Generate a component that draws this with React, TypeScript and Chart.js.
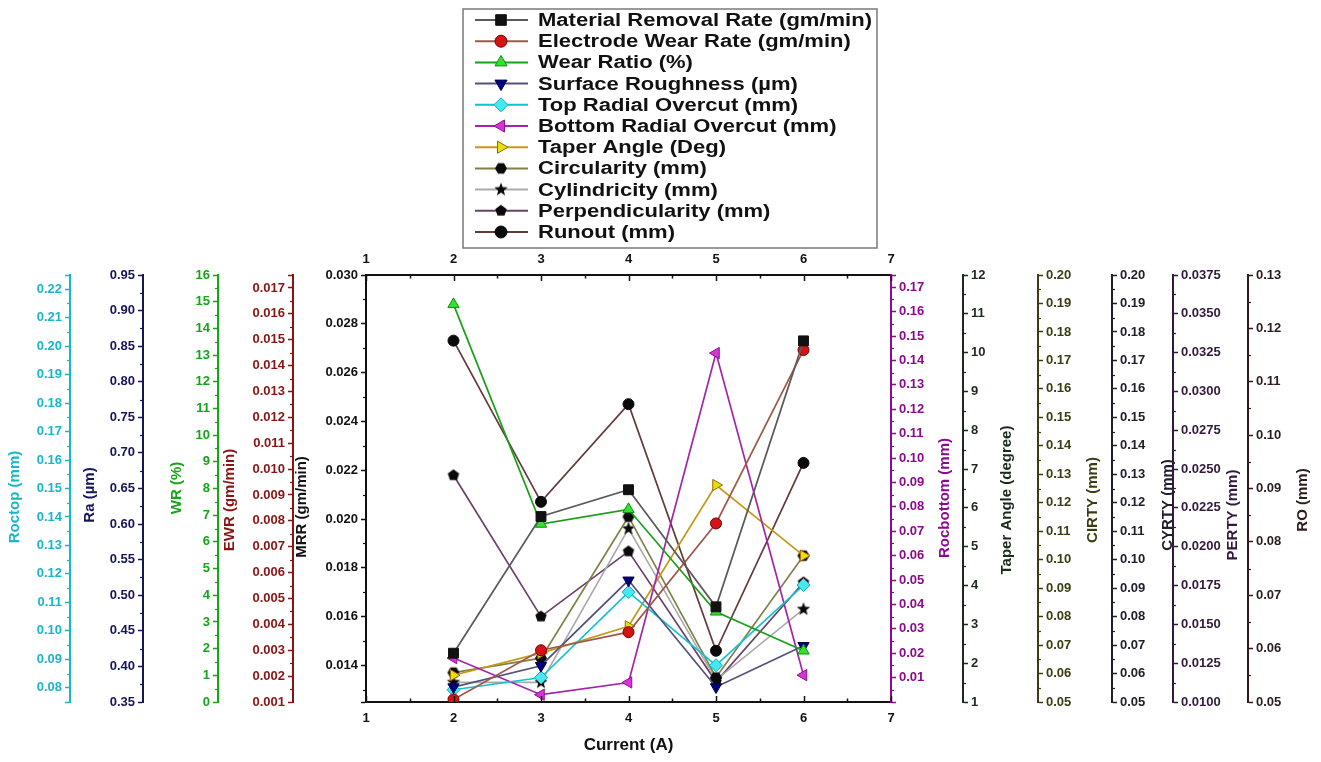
import React, { useEffect, useRef } from 'react';
import { Chart, registerables } from 'chart.js';
import { drawPoint } from 'chart.js/helpers';

Chart.register(...registerables);

// ---------------- data ----------------
const currentA = [2, 3, 4, 5, 6];
const currentTicks = [1, 2, 3, 4, 5, 6, 7];

const mrrValues = [0.0145, 0.0201, 0.0212, 0.0164, 0.0273];
const ewrValues = [0.0011, 0.003, 0.0037, 0.0079, 0.0146];
const wrValues = [14.9, 6.67, 7.22, 3.38, 1.92];
const raValues = [0.371, 0.401, 0.521, 0.371, 0.429];
const rocTopValues = [0.0793, 0.0836, 0.1136, 0.0879, 0.1161];
const rocBottomValues = [0.018, 0.003, 0.008, 0.143, 0.011];
const taperValues = [1.69, 2.26, 2.95, 6.59, 4.77];
const circularityValues = [0.0603, 0.0654, 0.1151, 0.0586, 0.1014];
const cylindricityValues = [0.0569, 0.0569, 0.1109, 0.0577, 0.0826];
const perpendicularityValues = [0.0246, 0.0155, 0.0197, 0.0113, 0.0177];
const runoutValues = [0.1177, 0.0875, 0.1058, 0.0596, 0.0948];

// axis ranges: [min, max, firstLabel, lastLabel, step, decimals]
const roctopRange = [0.075, 0.225, 0.08, 0.22, 0.01, 2];
const raRange = [0.35, 0.95, 0.35, 0.95, 0.05, 2];
const wrRange = [0, 16, 0, 16, 1, 0];
const ewrRange = [0.001, 0.0175, 0.001, 0.017, 0.001, 3];
const mrrRange = [0.0125, 0.03, 0.014, 0.03, 0.002, 3];
const rocBottomRange = [0, 0.175, 0.01, 0.17, 0.01, 2];
const taperRange = [1, 12, 1, 12, 1, 0];
const cirtyRange = [0.05, 0.2, 0.05, 0.2, 0.01, 2];
const cyrtyRange = [0.05, 0.2, 0.05, 0.2, 0.01, 2];
const pertyRange = [0.01, 0.0375, 0.01, 0.0375, 0.0025, 4];
const roRange = [0.05, 0.13, 0.05, 0.13, 0.01, 2];

const FONT = "'Liberation Sans', Arial, Helvetica, sans-serif";

type Side = 'left' | 'right';
interface AxisSpec {
  id: string;
  side: Side;
  range: number[];
  color: string;
  title: string;
  width: number;
  weight: number;
  titleDx: number;
  titleY: number;
}

const AXES: AxisSpec[] = [
  { id: 'yRoctop', side: 'left', range: roctopRange, color: '#17b6c9', title: 'Roctop (mm)', width: 70, weight: 5, titleDx: -55, titleY: 497 },
  { id: 'yRa', side: 'left', range: raRange, color: '#15155a', title: 'Ra (\u00b5m)', width: 73, weight: 4, titleDx: -53, titleY: 495 },
  { id: 'yWR', side: 'left', range: wrRange, color: '#16a516', title: 'WR (%)', width: 75, weight: 3, titleDx: -41, titleY: 488 },
  { id: 'yEWR', side: 'left', range: ewrRange, color: '#8a1414', title: 'EWR (gm/min)', width: 75, weight: 2, titleDx: -63, titleY: 500 },
  { id: 'yMRR', side: 'left', range: mrrRange, color: '#111111', title: 'MRR (gm/min)', width: 73, weight: 1, titleDx: -64, titleY: 507 },
  { id: 'yRocB', side: 'right', range: rocBottomRange, color: '#8c0a8c', title: 'Rocbottom (mm)', width: 72, weight: 1, titleDx: 54, titleY: 498 },
  { id: 'yTaper', side: 'right', range: taperRange, color: '#1c2a1c', title: 'Taper Angle (degree)', width: 75, weight: 2, titleDx: 44, titleY: 500 },
  { id: 'yCir', side: 'right', range: cirtyRange, color: '#3c3c12', title: 'CIRTY (mm)', width: 74, weight: 3, titleDx: 55, titleY: 500 },
  { id: 'yCyl', side: 'right', range: cyrtyRange, color: '#20202c', title: 'CYRTY (mm)', width: 61, weight: 4, titleDx: 56, titleY: 505 },
  { id: 'yPer', side: 'right', range: pertyRange, color: '#33193a', title: 'PERTY (mm)', width: 75, weight: 5, titleDx: 60, titleY: 515 },
  { id: 'yRO', side: 'right', range: roRange, color: '#2c1c1c', title: 'RO (mm)', width: 73, weight: 6, titleDx: 55, titleY: 500 },
];

const r6 = (v: number) => Math.round(v * 1e7) / 1e7;

function majorsOf(range: number[]): number[] {
  const [, , first, last, step] = range;
  const out: number[] = [];
  const n = Math.round((last - first) / step);
  for (let i = 0; i <= n; i++) out.push(r6(first + i * step));
  return out;
}

function minorsOf(range: number[]): number[] {
  const [min, max, first, last, step] = range;
  const out: number[] = [];
  const n = Math.round((last - first) / step);
  for (let i = -1; i <= n; i++) {
    const v = r6(first + (i + 0.5) * step);
    if (v > min + 1e-9 && v < max - 1e-9) out.push(v);
  }
  return out;
}

function makeMarker(kind: 'hex' | 'pent' | 'star', r: number, fill: string): HTMLCanvasElement {
  const c = document.createElement('canvas');
  const size = Math.ceil(2 * r + 2);
  c.width = size;
  c.height = size;
  const g = c.getContext('2d')!;
  g.translate(size / 2, size / 2);
  g.beginPath();
  const n = kind === 'hex' ? 6 : kind === 'pent' ? 5 : 10;
  for (let i = 0; i < n; i++) {
    const ang = -Math.PI / 2 + (i * 2 * Math.PI) / n + (kind === 'hex' ? Math.PI / 6 : 0);
    const rr = kind === 'star' && i % 2 === 1 ? r * 0.42 : r;
    const px = rr * Math.cos(ang);
    const py = rr * Math.sin(ang);
    if (i === 0) g.moveTo(px, py);
    else g.lineTo(px, py);
  }
  g.closePath();
  g.fillStyle = fill;
  g.fill();
  return c;
}

const decorPlugin = {
  id: 'decor',
  afterDraw(chart: any) {
    const ctx: CanvasRenderingContext2D = chart.ctx;
    const area = chart.chartArea;
    ctx.save();
    const line = (x1: number, y1: number, x2: number, y2: number) => {
      ctx.beginPath();
      ctx.moveTo(x1, y1);
      ctx.lineTo(x2, y2);
      ctx.stroke();
    };
    // inward ticks on both x axes
    const xs = chart.scales.x;
    ctx.strokeStyle = '#111';
    ctx.lineWidth = 1.5;
    for (let v = currentTicks[0]; v <= currentTicks[currentTicks.length - 1] + 1e-9; v += 0.5) {
      const px = Math.round(xs.getPixelForValue(v)) + 0.5;
      const len = Number.isInteger(v) ? 6 : 3.5;
      line(px, area.bottom, px, area.bottom - len);
      line(px, area.top, px, area.top + len);
    }
    // minor ticks and titles on y axes
    for (const a of AXES) {
      const s = chart.scales[a.id];
      const x0 = a.side === 'left' ? s.right : s.left;
      const dir = a.side === 'left' ? -1 : 1;
      ctx.strokeStyle = a.color;
      ctx.lineWidth = 1.2;
      for (const v of minorsOf(a.range)) {
        const py = Math.round(s.getPixelForValue(v)) + 0.5;
        line(x0, py, x0 + dir * 3, py);
      }
      ctx.save();
      ctx.translate(x0 + a.titleDx, a.titleY);
      ctx.rotate(-Math.PI / 2);
      ctx.fillStyle = a.color;
      ctx.font = `bold 15px ${FONT}`;
      ctx.textAlign = 'center';
      ctx.textBaseline = 'middle';
      ctx.fillText(a.title, 0, 0);
      ctx.restore();
    }
    ctx.restore();
  },
};

const legendPlugin = {
  id: 'boxLegend',
  afterDraw(chart: any) {
    const ctx: CanvasRenderingContext2D = chart.ctx;
    const datasets = chart.data.datasets;
    ctx.save();
    ctx.strokeStyle = '#7a7a7a';
    ctx.lineWidth = 1.5;
    ctx.strokeRect(463, 9, 414, 239);
    ctx.font = `bold 18px ${FONT}`;
    let maxW = 0;
    datasets.forEach((ds: any) => {
      maxW = Math.max(maxW, ctx.measureText(ds.label).width);
    });
    const sx = 334 / maxW;
    datasets.forEach((ds: any, i: number) => {
      const y = 20 + i * 21.2;
      ctx.strokeStyle = ds.borderColor;
      ctx.lineWidth = 2;
      ctx.beginPath();
      ctx.moveTo(475, y);
      ctx.lineTo(528, y);
      ctx.stroke();
      ctx.fillStyle = ds.pointBackgroundColor;
      ctx.strokeStyle = ds.pointBorderColor;
      ctx.lineWidth = 1;
      drawPoint(
        ctx,
        { pointStyle: ds.pointStyle, rotation: ds.pointRotation || 0, radius: ds.pointRadius + 0.5, borderWidth: 1 } as any,
        501,
        y
      );
      ctx.save();
      ctx.translate(538, y + 1);
      ctx.scale(sx, 1);
      ctx.fillStyle = '#111';
      ctx.textAlign = 'left';
      ctx.textBaseline = 'middle';
      ctx.fillText(ds.label, 0, 0);
      ctx.restore();
    });
    ctx.restore();
  },
};

function xy(values: number[]) {
  return currentA.map((x, i) => ({ x, y: values[i] }));
}

export default function App() {
  const ref = useRef<HTMLCanvasElement | null>(null);

  useEffect(() => {
    const canvas = ref.current;
    if (!canvas) return;
    const hex = makeMarker('hex', 6, '#0a0a0a');
    const pent = makeMarker('pent', 6, '#0a0a0a');
    const star = makeMarker('star', 7, '#0a0a0a');

    const base = { borderWidth: 1.7, tension: 0, pointBorderWidth: 1, xAxisID: 'x' };
    const datasets: any[] = [
      { ...base, label: 'Material Removal Rate (gm/min)', data: xy(mrrValues), yAxisID: 'yMRR', borderColor: '#5a5a5a', pointStyle: 'rect', pointBackgroundColor: '#111', pointBorderColor: '#111', pointRadius: 7 },
      { ...base, label: 'Electrode Wear Rate (gm/min)', data: xy(ewrValues), yAxisID: 'yEWR', borderColor: '#a0584a', pointStyle: 'circle', pointBackgroundColor: '#d41414', pointBorderColor: '#7a0000', pointRadius: 5.5 },
      { ...base, label: 'Wear Ratio (%)', data: xy(wrValues), yAxisID: 'yWR', borderColor: '#18a018', pointStyle: 'triangle', pointBackgroundColor: '#34e034', pointBorderColor: '#0f8f0f', pointRadius: 6.5 },
      { ...base, label: 'Surface Roughness (\u00b5m)', data: xy(raValues), yAxisID: 'yRa', borderColor: '#52527a', pointStyle: 'triangle', pointRotation: 180, pointBackgroundColor: '#00007c', pointBorderColor: '#000050', pointRadius: 6.5 },
      { ...base, label: 'Top Radial Overcut (mm)', data: xy(rocTopValues), yAxisID: 'yRoctop', borderColor: '#12c2d2', pointStyle: 'rectRot', pointBackgroundColor: '#46e8f2', pointBorderColor: '#10aebe', pointRadius: 6.5 },
      { ...base, label: 'Bottom Radial Overcut (mm)', data: xy(rocBottomValues), yAxisID: 'yRocB', borderColor: '#a424aa', pointStyle: 'triangle', pointRotation: -90, pointBackgroundColor: '#d535d5', pointBorderColor: '#901090', pointRadius: 6.5 },
      { ...base, label: 'Taper Angle (Deg)', data: xy(taperValues), yAxisID: 'yTaper', borderColor: '#c39a18', pointStyle: 'triangle', pointRotation: 90, pointBackgroundColor: '#e8e000', pointBorderColor: '#a06010', pointRadius: 6.5 },
      { ...base, label: 'Circularity (mm)', data: xy(circularityValues), yAxisID: 'yCir', borderColor: '#80804a', pointStyle: hex, pointBackgroundColor: '#0a0a0a', pointBorderColor: '#0a0a0a', pointRadius: 6 },
      { ...base, label: 'Cylindricity (mm)', data: xy(cylindricityValues), yAxisID: 'yCyl', borderColor: '#ababab', pointStyle: star, pointBackgroundColor: '#0a0a0a', pointBorderColor: '#0a0a0a', pointRadius: 6 },
      { ...base, label: 'Perpendicularity (mm)', data: xy(perpendicularityValues), yAxisID: 'yPer', borderColor: '#6a406a', pointStyle: pent, pointBackgroundColor: '#0a0a0a', pointBorderColor: '#0a0a0a', pointRadius: 6 },
      { ...base, label: 'Runout (mm)', data: xy(runoutValues), yAxisID: 'yRO', borderColor: '#613a3a', pointStyle: 'circle', pointBackgroundColor: '#0a0a0a', pointBorderColor: '#0a0a0a', pointRadius: 5.5 },
    ];

    const tickFont = { family: FONT, size: 13, weight: 'bold' as const };
    const scales: any = {
      x: {
        type: 'linear',
        position: 'bottom',
        min: 1,
        max: 7,
        afterBuildTicks: (s: any) => {
          s.ticks = currentTicks.map((v) => ({ value: v }));
        },
        afterFit: (s: any) => {
          s.height = 60;
        },
        ticks: { color: '#111', font: tickFont, padding: 9, autoSkip: false, maxRotation: 0, callback: (v: any) => String(v) },
        grid: { drawOnChartArea: false, drawTicks: false },
        border: { display: true, color: '#111', width: 2 },
        title: { display: true, text: 'Current (A)', color: '#111', font: { family: FONT, size: 17, weight: 'bold' }, padding: { top: 2, bottom: 6 } },
      },
      x2: {
        type: 'linear',
        position: 'top',
        axis: 'x',
        min: 1,
        max: 7,
        afterBuildTicks: (s: any) => {
          s.ticks = currentTicks.map((v) => ({ value: v }));
        },
        afterFit: (s: any) => {
          s.height = 30;
        },
        ticks: { color: '#111', font: tickFont, padding: 8, autoSkip: false, maxRotation: 0, callback: (v: any) => String(v) },
        grid: { drawOnChartArea: false, drawTicks: false },
        border: { display: true, color: '#111', width: 2 },
      },
    };

    for (const a of AXES) {
      const [min, max, , , , dec] = a.range;
      const majors = majorsOf(a.range);
      const majorKeys = new Set(majors.map((v) => Math.round(v * 1e6)));
      const tickVals = Array.from(new Set([min, ...majors, max].map(r6))).sort((p, q) => p - q);
      scales[a.id] = {
        type: 'linear',
        axis: 'y',
        position: a.side,
        weight: a.weight,
        min,
        max,
        afterBuildTicks: (s: any) => {
          s.ticks = tickVals.map((v) => ({ value: v }));
        },
        afterFit: (s: any) => {
          s.width = a.width;
        },
        ticks: {
          color: a.color,
          font: tickFont,
          padding: 3,
          autoSkip: false,
          callback: (v: any) => (majorKeys.has(Math.round(Number(v) * 1e6)) ? Number(v).toFixed(dec) : ''),
        },
        grid: { drawOnChartArea: false, drawTicks: true, tickLength: 5, tickColor: a.color, tickWidth: 1.5 },
        border: { display: true, color: a.color, width: 2 },
        title: { display: false },
      };
    }

    const chart = new Chart(canvas, {
      type: 'line',
      data: { datasets },
      options: {
        responsive: false,
        animation: false,
        layout: { padding: { top: 245, left: 0, right: 0, bottom: 0 } },
        plugins: { legend: { display: false }, tooltip: { enabled: false } },
        scales,
      },
      plugins: [decorPlugin, legendPlugin],
    } as any);

    return () => chart.destroy();
  }, []);

  return (
    <div style={{ position: 'absolute', left: 0, top: 0, width: 1321, height: 762, background: '#fff' }}>
      <canvas ref={ref} width={1321} height={762} style={{ display: 'block' }} />
    </div>
  );
}
